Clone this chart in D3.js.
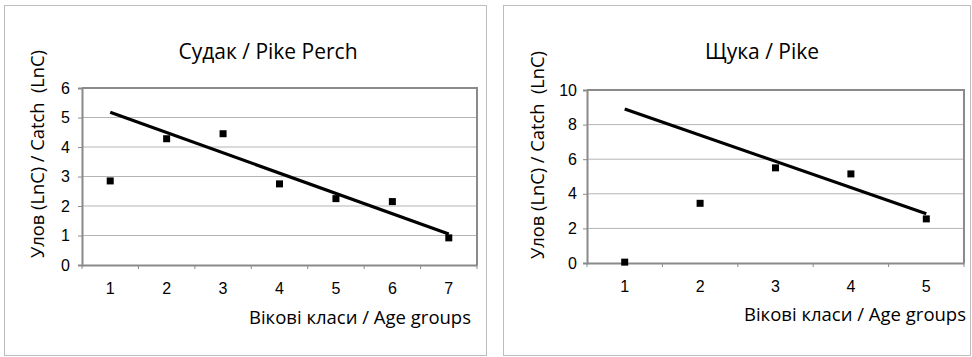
<!DOCTYPE html>
<html>
<head>
<meta charset="utf-8">
<style>
  body { margin: 0; background: #fff; }
  .title, .atitle { font-family: "Open Sans", "Noto Sans", sans-serif; fill: #000; }
</style>
<script src="https://cdn.jsdelivr.net/npm/d3@7"></script>
</head>
<body>
<svg width="972" height="357"></svg>
<script>
// --- data ---
var perchAges = [1, 2, 3, 4, 5, 6, 7];
var perchCatch = [2.85, 4.28, 4.45, 2.75, 2.25, 2.15, 0.92];
var perchTrend = [5.18, 1.05];          // trend line value at first / last age
var perchTicks = [0, 1, 2, 3, 4, 5, 6];

var pikeAges = [1, 2, 3, 4, 5];
var pikeCatch = [0.05, 3.45, 5.5, 5.15, 2.55];
var pikeTrend = [8.9, 2.85];
var pikeTicks = [0, 2, 4, 6, 8, 10];

var yTitle = "Улов (LnC) / Catch\u00a0\u00a0(LnC)";
var xTitle = "Вікові класи / Age groups";

var svg = d3.select("svg");

function styleTicks(sel) {
  sel.attr("font-family", "Liberation Sans, Arial, sans-serif")
    .attr("font-size", 16);
  sel.selectAll("text").attr("fill", "#000");
}

function panel(o) {
  var g = svg.append("g");

  // outer frame
  g.append("rect")
    .attr("x", o.frame[0] + 0.5).attr("y", o.frame[1] + 0.5)
    .attr("width", o.frame[2] - o.frame[0]).attr("height", o.frame[3] - o.frame[1])
    .attr("fill", "#fff").attr("stroke", "#bdbdbd").attr("stroke-width", 1);

  var x = d3.scaleBand().domain(o.ages).range([o.left, o.right]);
  var y = d3.scaleLinear().domain([0, d3.max(o.ticks)]).range([o.bottom, o.top]);

  // gridlines
  g.append("g").selectAll("line")
    .data(o.ticks.slice(1))
    .enter().append("line")
      .attr("x1", o.left).attr("x2", o.right)
      .attr("y1", function(d) { return y(d); })
      .attr("y2", function(d) { return y(d); })
      .attr("stroke", "#b5b5b5").attr("stroke-width", 1);

  // y axis
  var ya = g.append("g")
    .attr("transform", "translate(" + o.left + ",0)")
    .call(d3.axisLeft(y).tickValues(o.ticks).tickSize(4).tickPadding(o.yPad).tickFormat(d3.format("d")));
  ya.select(".domain").attr("stroke", "#8a8a8a").attr("stroke-width", 2);
  ya.selectAll(".tick line").attr("stroke", "#8a8a8a");
  styleTicks(ya);

  // x axis, ticks on band edges
  var xa = g.append("g")
    .attr("transform", "translate(0," + o.bottom + ")")
    .call(d3.axisBottom(x).tickSize(0).tickPadding(o.xPad));
  xa.select(".domain").attr("stroke", "#8a8a8a").attr("stroke-width", 2);
  styleTicks(xa);
  var edges = o.ages.map(function(a) { return x(a); }).concat([o.right]);
  g.append("g").selectAll("line")
    .data(edges)
    .enter().append("line")
      .attr("x1", function(d) { return d; }).attr("x2", function(d) { return d; })
      .attr("y1", o.bottom).attr("y2", o.bottom + 4)
      .attr("stroke", "#8a8a8a");

  // plot area border (top and right)
  g.append("path")
    .attr("d", "M" + o.left + "," + o.top + "H" + o.right + "V" + o.bottom)
    .attr("fill", "none").attr("stroke", "#8a8a8a").attr("stroke-width", 2);

  var cx = function(a) { return x(a) + x.bandwidth() / 2; };

  // trend line
  var first = o.ages[0], last = o.ages[o.ages.length - 1];
  g.append("line")
    .attr("x1", cx(first)).attr("y1", y(o.trend[0]))
    .attr("x2", cx(last)).attr("y2", y(o.trend[1]))
    .attr("stroke", "#000").attr("stroke-width", 3.2);

  // markers
  g.append("g").selectAll("rect")
    .data(o.ages)
    .enter().append("rect")
      .attr("x", function(d) { return cx(d) - 3.5; })
      .attr("y", function(d, i) { return y(o.values[i]) - 3.5; })
      .attr("width", 7).attr("height", 7)
      .attr("fill", "#000");

  // titles
  g.append("text").attr("class", "title")
    .attr("x", o.titleX).attr("y", 59)
    .attr("text-anchor", "middle").attr("font-size", 21)
    .text(o.title);

  g.append("text").attr("class", "atitle")
    .attr("transform", "translate(" + o.yTitleX + "," + o.yTitleY + ") rotate(-90)")
    .attr("text-anchor", "middle").attr("font-size", 18.3)
    .text(yTitle);

  g.append("text").attr("class", "atitle")
    .attr("x", o.xTitleX).attr("y", o.xTitleY)
    .attr("text-anchor", "end").attr("font-size", 18.5)
    .text(xTitle);
}

panel({
  frame: [4, 5, 486, 355],
  left: 82, right: 477, top: 88, bottom: 265,
  yPad: 8, xPad: 18,
  ages: perchAges, values: perchCatch, trend: perchTrend, ticks: perchTicks,
  title: "Судак / Pike Perch", titleX: 268,
  yTitleX: 44, yTitleY: 154,
  xTitleX: 471, xTitleY: 324
});

panel({
  frame: [503, 5, 970, 355],
  left: 587, right: 964, top: 90, bottom: 263,
  yPad: 6, xPad: 18,
  ages: pikeAges, values: pikeCatch, trend: pikeTrend, ticks: pikeTicks,
  title: "Щука / Pike", titleX: 762,
  yTitleX: 544, yTitleY: 155,
  xTitleX: 966, xTitleY: 321
});
</script>
</body>
</html>
